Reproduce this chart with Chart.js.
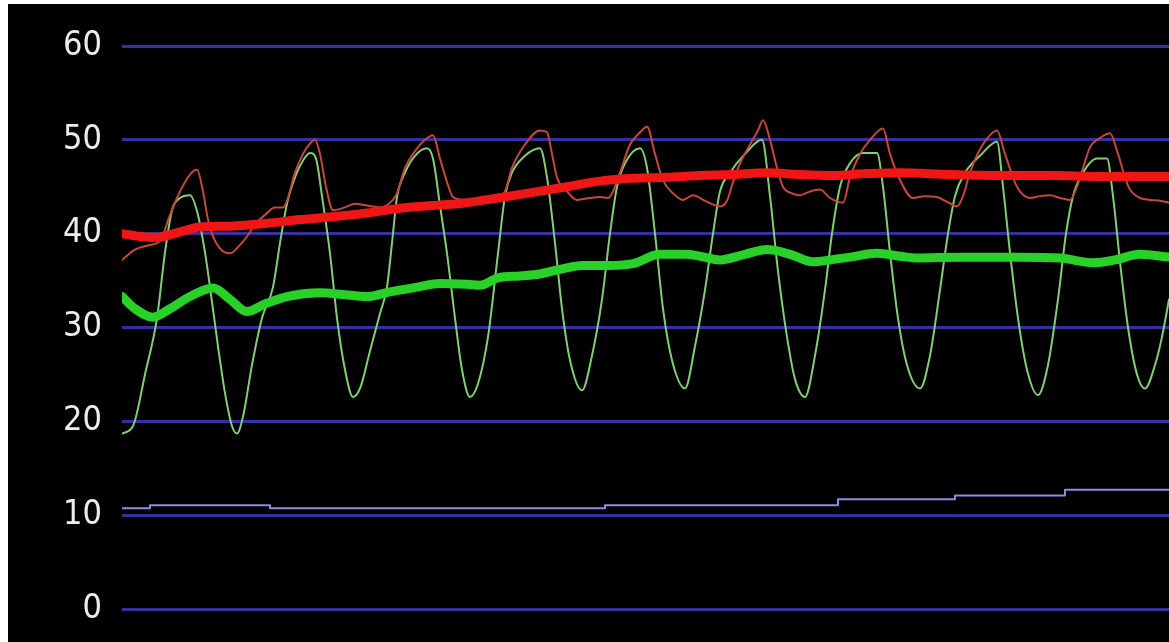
<!DOCTYPE html>
<html>
<head>
<meta charset="utf-8">
<script src="https://cdn.jsdelivr.net/npm/chart.js@4.4.1/dist/chart.umd.min.js"></script>
<style>
  html, body { margin: 0; padding: 0; background: #fff; }
  #wrap { position: absolute; left: 8px; top: 4px; width: 1161px; height: 638px; background: #000; }
</style>
</head>
<body>
<div id="wrap"><canvas id="chart"></canvas></div>
<script>
// x = sample number, y = reading
const yTicks = [0, 10, 20, 30, 40, 50, 60];

const thinGreen = [
  [0,18.7],[11,19.5],[23,25],[35,31],[43,38],[50,42.5],[58,43.8],[68,44.1],[76,42],[83,38],[88,34.3],
  [96,28],[103,23],[110,19.5],[115,18.7],[121,20.5],[130,26],[140,31],[151,34.3],[158,39],[165,43.2],
  [173,46],[181,47.8],[188,48.6],[194,48],[200,44],[208,37.9],[215,31],[223,25.5],[231,22.6],[238,23.5],
  [248,27.5],[258,31.5],[265,34.3],[270,39],[275,43.9],[283,46.5],[293,48.3],[305,49.1],[311,48],
  [318,43],[325,37.9],[333,31],[340,25.5],[348,22.6],[356,24],[366,29],[376,37.9],[383,44],[390,46.5],
  [403,48.3],[418,49.1],[425,46],[433,39],[440,32],[448,26.5],[460,23.3],[470,27],[480,33],[488,40],
  [495,45],[503,47.5],[518,49.1],[525,47],[533,40],[541,32],[550,26.5],[563,23.5],[573,28],[583,34],
  [591,40],[598,44.5],[608,46.5],[623,48.5],[640,50],[648,44],[656,36],[665,29],[673,24.5],[683,22.6],
  [693,27],[703,34],[710,40],[718,45],[728,47.5],[741,48.6],[755,48.6],[761,45],[768,38],[776,31],
  [785,26],[798,23.5],[808,27],[818,34],[826,40],[833,44],[843,46.5],[858,48.3],[875,49.8],[881,45],
  [888,38],[896,31],[905,25.5],[916,22.8],[926,26],[936,33],[944,40],[951,44],[961,46.5],[975,48],
  [985,48],[991,44],[998,37],[1006,30],[1015,25],[1023,23.5],[1033,26],[1040,29],[1047,33]
];

const thinRed = [
  [0,37.2],[13,38.3],[28,38.8],[38,39.2],[48,42],[58,44.5],[68,46.3],[75,46.8],[81,44.5],[86,41.5],
  [91,39.7],[100,38.2],[108,37.9],[118,38.8],[125,39.7],[133,41],[143,42],[153,42.8],[161,42.8],
  [165,43.5],[173,46.5],[181,48.5],[188,49.6],[193,50],[198,48.5],[204,45],[211,42.5],[223,42.8],
  [233,43.2],[245,43],[258,42.8],[270,43.5],[275,44.3],[283,47],[293,48.8],[303,50],[311,50.5],
  [318,48],[325,45.5],[331,43.9],[343,43.6],[358,43.5],[373,43.8],[383,44.5],[390,47],[403,49.5],
  [418,51],[425,50.8],[430,48.5],[435,46],[445,44.5],[455,43.6],[468,43.8],[478,43.9],[486,43.8],
  [491,44.5],[498,46.5],[508,49.5],[518,50.8],[525,51.4],[533,48.5],[541,45.7],[551,44.3],[561,43.6],
  [571,44.1],[583,43.5],[598,42.9],[605,43.5],[611,45.5],[618,47.5],[628,49.5],[636,51],[641,52.1],
  [648,50],[655,47],[661,45],[670,44.3],[678,44.1],[688,44.5],[698,44.7],[708,43.8],[721,43.3],
  [728,46],[738,48.5],[748,50],[761,51.2],[768,48.5],[778,45.7],[791,43.8],[803,44],[815,43.9],
  [825,43.4],[835,42.9],[841,44],[848,46.5],[858,49],[868,50.5],[875,51],[883,48.5],[895,45],
  [908,43.8],[918,44],[928,44.1],[938,43.8],[948,43.6],[955,45],[961,47],[968,49.2],[978,50.2],
  [988,50.7],[996,48.5],[1003,46],[1008,44.7],[1018,43.8],[1028,43.6],[1038,43.5],[1047,43.3]
];

const thickRed = [
  [0,40],[18,39.7],[35,39.6],[58,40.2],[78,40.7],[108,40.8],[145,41.1],[178,41.5],[211,41.8],
  [245,42.2],[278,42.7],[311,43],[345,43.3],[376,43.8],[411,44.4],[445,45],[478,45.6],[511,45.9],
  [545,46],[578,46.2],[611,46.3],[645,46.5],[678,46.3],[711,46.2],[745,46.4],[778,46.5],[828,46.3],
  [878,46.2],[928,46.2],[978,46.1],[1047,46.1]
];

const thickGreen = [
  [0,33.3],[13,32],[31,31.1],[48,32],[68,33.3],[91,34.2],[108,33],[125,31.7],[143,32.5],[165,33.3],
  [198,33.7],[223,33.5],[245,33.3],[268,33.8],[295,34.3],[318,34.7],[345,34.6],[358,34.5],[376,35.3],
  [398,35.5],[418,35.7],[438,36.2],[461,36.6],[488,36.6],[511,36.8],[538,37.8],[563,37.8],[578,37.6],
  [598,37.2],[623,37.8],[645,38.3],[668,37.8],[691,37],[708,37.2],[728,37.5],[755,37.9],[778,37.6],
  [795,37.4],[838,37.5],[895,37.5],[938,37.4],[971,36.9],[993,37.2],[1018,37.8],[1047,37.5]
];

const blueStep = [
  [0,10.75],[28,11.05],[148,10.75],[483,11.05],[716,11.7],[833,12.1],[943,12.7],[1047,12.7]
];

function pts(arr) {
  return arr.map(function (p) { return { x: p[0], y: p[1] }; });
}

const ctx = document.getElementById("chart");

const chart = new Chart(ctx, {
  type: "line",
  data: {
    datasets: [
      {
        data: pts(thickRed),
        borderColor: "rgb(240,22,22)",
        borderWidth: 9,
        order: 0,
      },
      {
        data: pts(thickGreen),
        borderColor: "rgb(40,208,40)",
        borderWidth: 9,
        order: 1,
      },
      {
        data: pts(thinRed),
        borderColor: "rgb(196,72,62)",
        borderWidth: 2,
        order: 2,
      },
      {
        data: pts(thinGreen),
        borderColor: "rgb(130,206,118)",
        borderWidth: 2,
        order: 3,
      },
      {
        data: pts(blueStep),
        borderColor: "rgb(140,140,230)",
        borderWidth: 2,
        stepped: true,
        order: 4,
      },
    ],
  },
  options: {
    responsive: true,
    maintainAspectRatio: false,
    animation: false,
    layout: {
      padding: { top: 42, bottom: 33, left: 0, right: 0 },
    },
    elements: {
      point: { radius: 0 },
      line: { cubicInterpolationMode: "monotone", borderCapStyle: "round", borderJoinStyle: "round" },
    },
    scales: {
      x: {
        type: "linear",
        display: false,
        min: 0,
        max: 1047,
      },
      y: {
        min: 0,
        max: 60,
        afterFit: function (scale) {
          scale.width = 114;
          scale.paddingTop = 0;
          scale.paddingBottom = 0;
        },
        afterBuildTicks: function (scale) {
          scale.ticks = yTicks.map(function (v) { return { value: v }; });
        },
        border: { display: false },
        grid: {
          color: "rgb(50,50,160)",
          lineWidth: 3,
          drawTicks: false,
        },
        ticks: {
          padding: 20,
          color: "#ececec",
          font: {
            family: "'Liberation Sans Narrow', 'DejaVu Sans Condensed', sans-serif",
            size: 34,
          },
        },
      },
    },
    plugins: {
      legend: { display: false },
      tooltip: { enabled: false },
    },
  },
});
</script>
</body>
</html>
